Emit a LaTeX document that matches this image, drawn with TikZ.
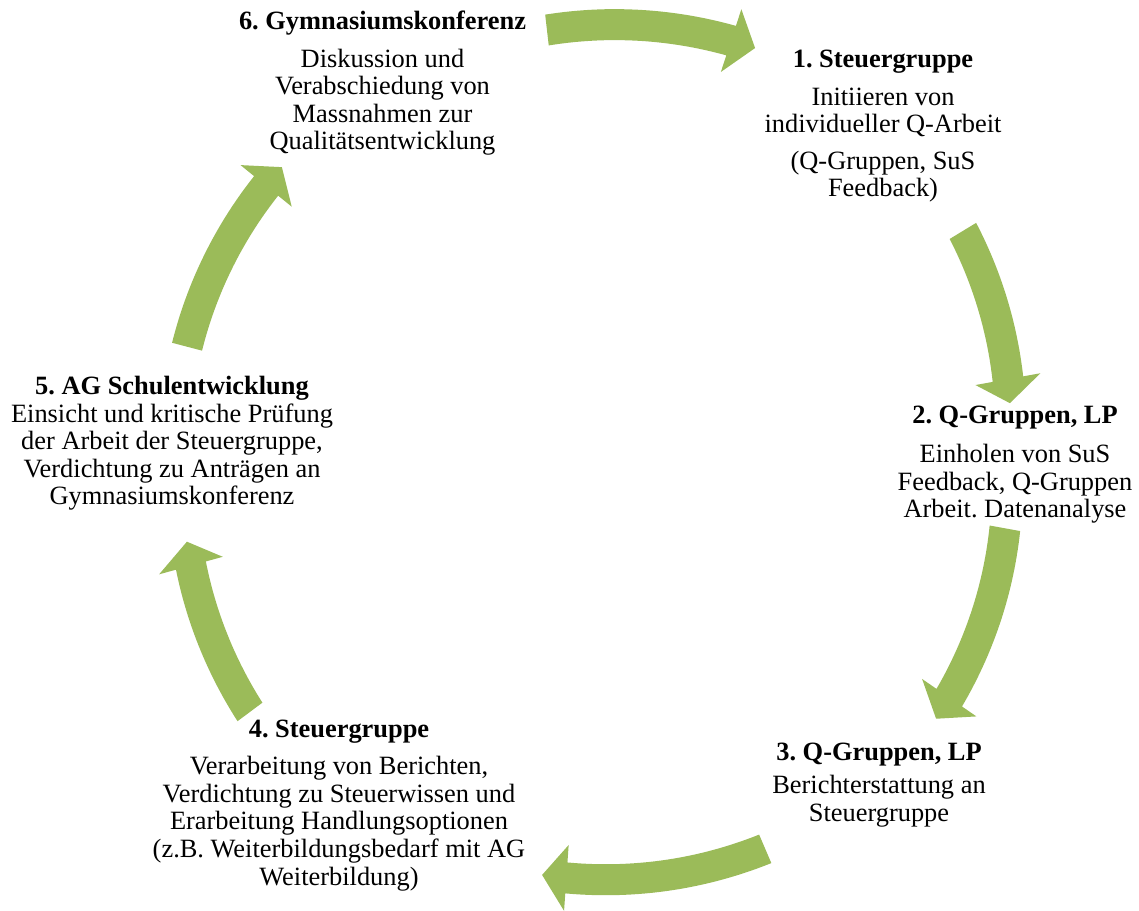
\documentclass[tikz,border=0pt]{standalone}
\usepackage{fontspec}
\setmainfont{Liberation Serif}
\frenchspacing
\definecolor{arrowgreen}{HTML}{9BBB59}

% curved block arrow: tail angle, tip angle, tail radius, tip radius
\newcommand{\cyclearrow}[4]{%
  \pgfmathsetmacro{\hb}{#2+3.3}
  \pgfmathsetmacro{\rh}{#3+(#4-#3)*(\hb-(#1))/((#2)-(#1))}
  \fill[cycarrow] plot[domain=#1:\hb, samples=30] (\x:{#3+(#4-#3)*(\x-(#1))/((#2)-(#1))+15.5})
    -- (\hb:{\rh+33}) -- (#2:#4) -- (\hb:{\rh-33})
    -- plot[domain=\hb:#1, samples=30] (\x:{#3+(#4-#3)*(\x-(#1))/((#2)-(#1))-15.5}) -- cycle;
}

\begin{document}
\begin{tikzpicture}[
  x=0.5pt, y=0.5pt,
  stage/.style={align=center, anchor=base, inner sep=0pt, font=\fontsize{13.2}{13.8}\selectfont},
  cycarrow/.style={fill=arrowgreen}
]
  \useasboundingbox (0,0) rectangle (1139,910);

  % stages (anchored at the baseline of the last line)
  \node[stage] (konferenz) at (382.5,760) {\textbf{6. Gymnasiumskonferenz}\\[5pt]
    Diskussion und\\Verabschiedung von\\Massnahmen zur\\Qualitätsentwicklung};
  \node[stage] (steuer1) at (883,713) {\textbf{1. Steuergruppe}\\[5pt]
    Initiieren von\\individueller Q-Arbeit\\[4.5pt](Q-Gruppen, SuS\\Feedback)};
  \node[stage] (qgruppen2) at (1015,392) {\textbf{2. Q-Gruppen, LP}\\[6pt]
    Einholen von SuS\\Feedback, Q-Gruppen\\Arbeit. Datenanalyse};
  \node[stage] (qgruppen3) at (879,89) {\textbf{3. Q-Gruppen, LP}\\[2.7pt]
    Berichterstattung an\\Steuergruppe};
  \node[stage] (steuer4) at (339,25) {\textbf{4. Steuergruppe}\\[5pt]
    Verarbeitung von Berichten,\\Verdichtung zu Steuerwissen und\\Erarbeitung Handlungsoptionen\\(z.B. Weiterbildungsbedarf mit AG\\Weiterbildung)};
  \node[stage] (schulentw) at (172,405) {\textbf{5. AG Schulentwicklung}\\
    Einsicht und kritische Prüfung\\der Arbeit der Steuergruppe,\\Verdichtung zu Anträgen an\\Gymnasiumskonferenz};

  % arrows of the cycle
  \begin{scope}[shift={(596,456)}]
    \cyclearrow{96.6}{68.6}{426.8}{436}
    \cyclearrow{31.3}{7.0}{429.4}{417}
    \cyclearrow{-10.3}{-37.9}{415.6}{431}
    \cyclearrow{-66.8}{-97.3}{429.6}{424.4}
    \cyclearrow{-143.3}{-167.9}{431.6}{418.4}
    \cyclearrow{165.3}{137.6}{422.8}{425.4}
  \end{scope}
\end{tikzpicture}
\end{document}
